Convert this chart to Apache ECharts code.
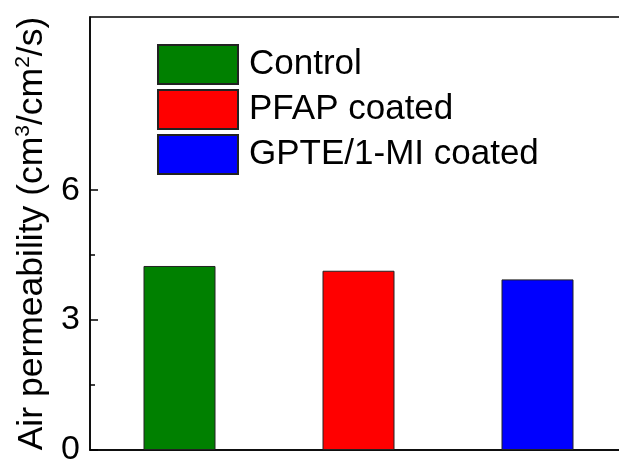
<!DOCTYPE html>
<html>
<head>
<meta charset="utf-8">
<script src="https://cdn.jsdelivr.net/npm/echarts@6/dist/echarts.min.js"></script>
<style>html,body{margin:0;padding:0;background:#fff}#c{width:619px;height:459px}</style>
</head>
<body>
<div id="c"></div>
<script>
var categories = ['Control', 'PFAP coated', 'GPTE/1-MI coated'];
var values = [4.25, 4.14, 3.94];
var colors = ['#008000', '#ff0000', '#0000ff'];
var majorTicks = [0, 3, 6];
var minorTicks = [1.5, 4.5];
var yMin = 0, yMax = 10;

var FONT = 'Liberation Sans, Arial, sans-serif';
var chart = echarts.init(document.getElementById('c'));

var series = categories.map(function (name, i) {
  return {
    name: name,
    type: 'bar',
    stack: 'all',
    barWidth: 72,
    data: categories.map(function (c, j) { return j === i ? values[i] : '-'; }),
    itemStyle: { color: colors[i], borderColor: '#222', borderWidth: 1 }
  };
});

var option = {
  animation: false,
  grid: {
    left: 90, top: 17, width: 537, bottom: 9,
    outerBoundsMode: 'none',
    containLabel: false,
    show: true, borderColor: '#000', borderWidth: 1.5, backgroundColor: 'transparent'
  },
  legend: {
    orient: 'vertical',
    left: 152, top: 39,
    itemWidth: 80, itemHeight: 39, itemGap: 4,
    icon: 'rect',
    textStyle: { fontFamily: FONT, fontSize: 35, lineHeight: 36, color: '#000', padding: [0, 0, 0, 6] },
    data: categories
  },
  xAxis: {
    type: 'category',
    data: categories,
    axisLine: { show: true, lineStyle: { color: '#000', width: 1.5 } },
    axisTick: { show: false },
    axisLabel: { show: false }
  },
  yAxis: [{
    type: 'value',
    min: yMin, max: yMax, interval: 3,
    axisLine: { show: true, lineStyle: { color: '#000', width: 1.5 } },
    axisTick: { show: true, inside: true, length: 8, lineStyle: { color: '#000', width: 1.5 }, customValues: majorTicks },
    axisLabel: { fontFamily: FONT, fontSize: 34, color: '#000', margin: 10, customValues: majorTicks },
    splitLine: { show: false },
    name: 'Air permeability (cm{sup|3}/cm{sup|2}/s)',
    nameLocation: 'middle',
    nameGap: 34,
    nameRotate: 90,
    nameTextStyle: {
      fontFamily: FONT, fontSize: 35.5, color: '#000',
      rich: { sup: { fontFamily: FONT, fontSize: 21, color: '#000', verticalAlign: 'top', padding: [0, 0, 17, 0] } }
    }
  }, {
    type: 'value',
    position: 'left',
    min: yMin, max: yMax, interval: 3,
    axisLine: { show: false },
    axisTick: { show: true, inside: true, length: 5, lineStyle: { color: '#000', width: 1.5 }, customValues: minorTicks },
    axisLabel: { show: false },
    splitLine: { show: false }
  }],
  series: series
};
chart.setOption(option);
</script>
</body>
</html>
